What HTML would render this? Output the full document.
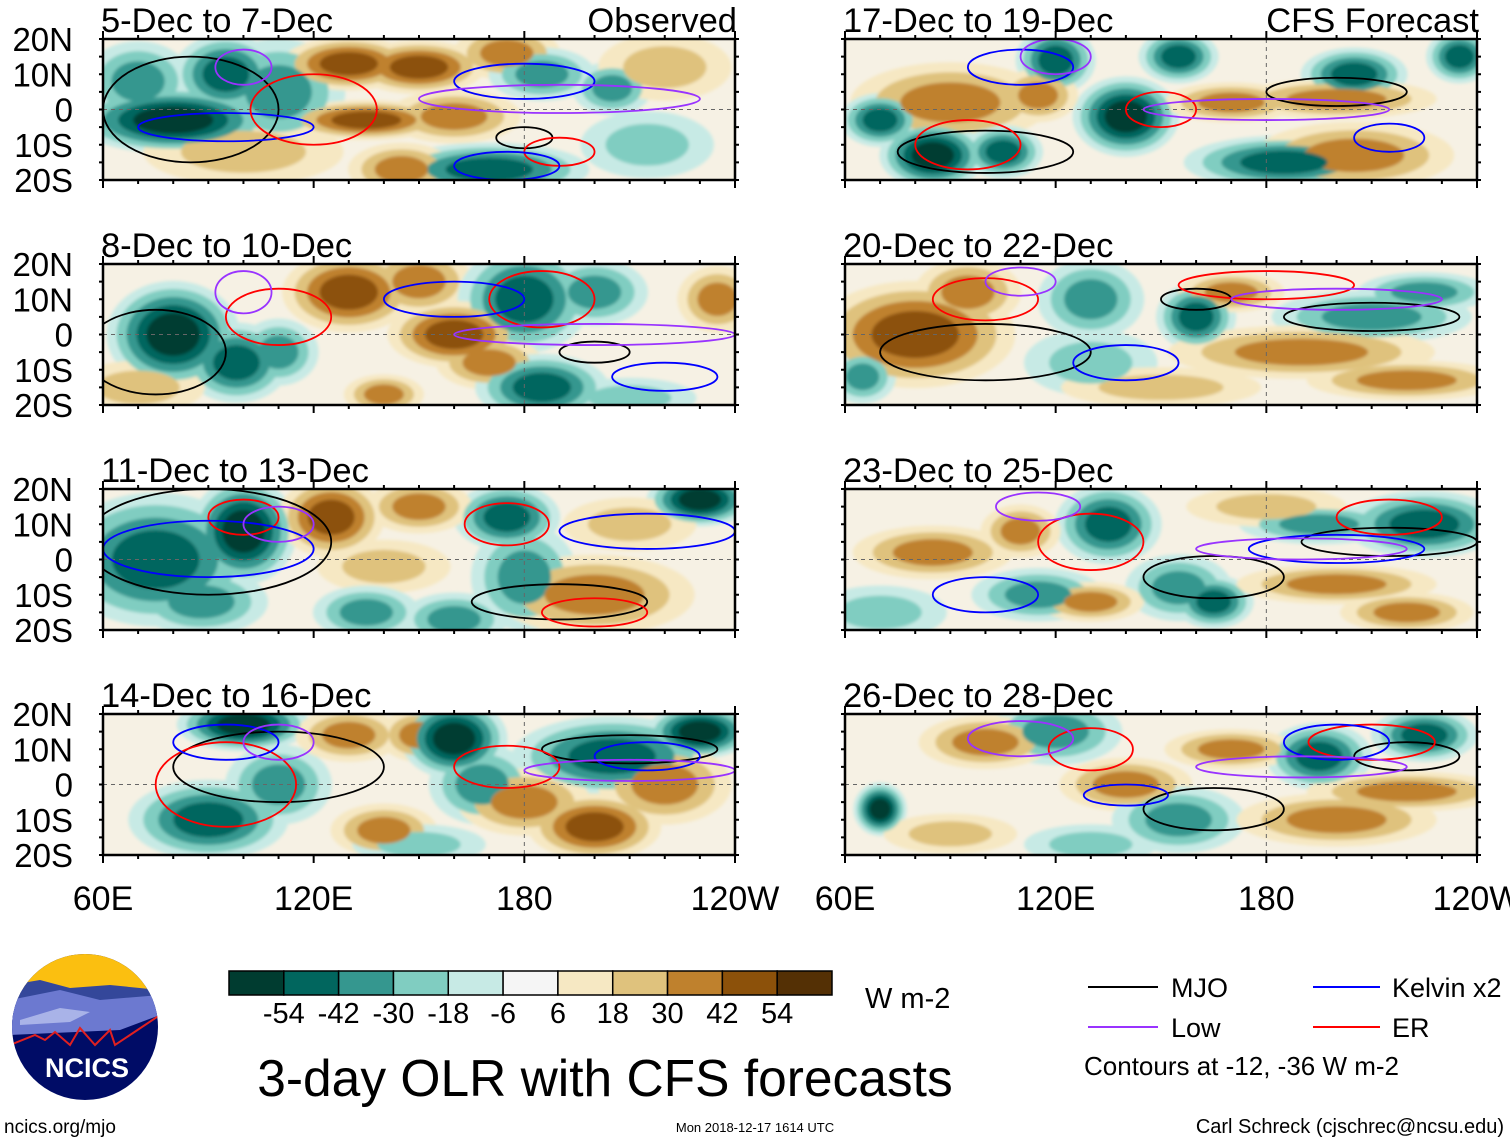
<!DOCTYPE html>
<html><head><meta charset="utf-8"><style>
body{margin:0;background:#fff;}
svg text{font-family:"Liberation Sans",sans-serif;fill:#000;}
</style></head><body>
<svg id="fig" width="1510" height="1142" viewBox="0 0 1510 1142" xmlns="http://www.w3.org/2000/svg">
<defs><filter id="bl" x="-10%" y="-10%" width="120%" height="120%"><feGaussianBlur stdDeviation="1.5"/></filter></defs>
<g id="panels"></g>
<g id="bottom">
  <g>
    <clipPath id="lc"><circle cx="85" cy="1027" r="73"/></clipPath>
    <g clip-path="url(#lc)">
      <rect x="10" y="950" width="150" height="160" fill="#000c66"/>
      <rect x="10" y="950" width="150" height="40" fill="#fbbf10"/>
      <path d="M10 985 L40 980 L70 988 L110 985 L160 990 L160 1015 L10 1030Z" fill="#34479a"/>
      <path d="M10 1000 L60 990 L100 1000 L160 995 L160 1015 L120 1030 L10 1035Z" fill="#6c79d0"/>
      <path d="M20 1020 L60 1008 L90 1012 L70 1022 L20 1025Z" fill="#a9b3e8"/>
      <path d="M10 1045 L35 1035 L45 1040 L55 1032 L70 1045 L80 1028 L95 1045 L110 1030 L115 1045 L160 1015" fill="none" stroke="#e02020" stroke-width="2"/>
    </g>
    <text x="87" y="1077" font-size="27" font-weight="bold" text-anchor="middle" style="fill:#fff">NCICS</text>
  </g>
  <text x="4" y="1133" font-size="19">ncics.org/mjo</text>
  <g id="cbar"></g>
  <text x="865" y="1008" font-size="29">W m-2</text>
  <text x="605" y="1096" font-size="51.5" text-anchor="middle">3-day OLR with CFS forecasts</text>
  <text x="755" y="1132" font-size="13" text-anchor="middle">Mon 2018-12-17 1614 UTC</text>
  <g>
    <line x1="1088" y1="987" x2="1158" y2="987" stroke="#000" stroke-width="2"/><text x="1171" y="997" font-size="27">MJO</text>
    <line x1="1313" y1="987" x2="1380" y2="987" stroke="#0000ff" stroke-width="2"/><text x="1392" y="997" font-size="27">Kelvin x2</text>
    <line x1="1088" y1="1027" x2="1158" y2="1027" stroke="#9933ff" stroke-width="2"/><text x="1171" y="1037" font-size="27">Low</text>
    <line x1="1313" y1="1027" x2="1380" y2="1027" stroke="#ff0000" stroke-width="2"/><text x="1392" y="1037" font-size="27">ER</text>
    <text x="1084" y="1075" font-size="26">Contours at -12, -36 W m-2</text>
  </g>
  <text x="1504" y="1133" font-size="20" text-anchor="end">Carl Schreck (cjschrec@ncsu.edu)</text>
</g>
</svg>
<script>
const levels=[-54,-42,-30,-18,-6,6,18,30,42,54];
const levelColors=["#003c30","#01665e","#35978f","#80cdc1","#c7eae5","#f5f5f5","#f6e8c3","#dfc27d","#bf812d","#8c510a","#543005"];
const panelTitles=["5-Dec to 7-Dec","8-Dec to 10-Dec","11-Dec to 13-Dec","14-Dec to 16-Dec","17-Dec to 19-Dec","20-Dec to 22-Dec","23-Dec to 25-Dec","26-Dec to 28-Dec"];
const latTicks=["20N","10N","0","10S","20S"];
const latVals=[20,10,0,-10,-20];
const lonTicks=["60E","120E","180","120W"];
const lonVals=[60,120,180,240];
// blobs: [lon, lat, rxDeg, ryDeg, anomaly]
const blobs0=[[80,-3,15,5,-54],[95,10,8,6,-42],[110,5,10,8,-30],[70,8,8,6,-30],[130,13,10,4,42],[150,12,10,4,42],[175,16,8,4,30],[135,-3,12,3,42],[160,-2,10,4,30],[170,-17,15,4,-42],[145,-17,8,4,30],[185,10,8,4,-30],[205,6,6,4,-30],[100,-12,15,5,18],[215,-10,10,5,-18],[220,12,10,5,18]];
const blobs1=[[80,0,10,8,-54],[98,-8,8,6,-42],[130,12,10,6,42],[150,15,8,5,30],[180,10,10,8,-42],[200,12,8,5,-30],[160,0,10,5,42],[170,-8,8,4,30],[185,-15,10,5,-42],[235,10,6,5,30],[140,-17,6,3,30],[110,-5,6,5,-30],[70,-15,10,4,18],[210,-18,10,3,-18]];
const blobs2=[[75,0,15,10,-42],[100,8,8,8,-54],[88,-12,10,5,-30],[125,12,8,6,42],[140,-2,10,4,18],[135,-15,8,4,-30],[175,12,8,5,-42],[180,-5,8,8,-30],[200,-10,15,6,30],[230,17,8,4,-54],[160,-17,8,4,-30],[150,15,8,4,30],[210,10,10,4,18]];
const blobs3=[[100,17,10,4,-54],[90,-10,12,6,-42],[110,0,8,6,-30],[130,14,8,4,30],[150,14,6,4,30],[160,13,8,6,-54],[168,0,8,6,-30],[205,8,15,6,-42],[230,15,8,4,-54],[200,-12,10,5,42],[180,-5,10,5,30],[140,-13,8,4,30],[220,0,10,6,30],[150,-17,10,3,-18]];
const blobs4=[[90,2,15,6,30],[85,-13,8,5,-54],[70,-3,6,4,-42],[105,-12,6,4,-42],[140,-2,8,6,-54],[120,14,6,5,-42],[155,15,6,4,-42],[115,4,6,4,30],[185,-15,15,4,-42],[205,-13,15,5,30],[205,10,8,4,-42],[235,15,5,4,-42],[170,2,10,3,30],[200,3,15,3,30]];
const blobs5=[[80,0,15,8,42],[95,12,8,5,30],[65,-12,5,4,-30],[130,10,8,6,-30],[160,5,6,5,-42],[210,5,15,4,-30],[190,-5,20,4,30],[170,12,8,3,30],[130,-8,10,5,-18],[220,-13,15,3,30],[225,12,10,3,-30],[150,-15,15,3,18]];
const blobs6=[[85,2,12,4,30],[115,-10,10,4,-30],[135,10,8,6,-42],[110,8,6,4,30],[155,-8,8,5,-30],[165,-12,6,4,-42],[200,-7,15,3,30],[225,10,12,5,-42],[195,10,12,3,-30],[220,-15,10,3,30],[130,-12,8,3,30],[180,15,12,3,18],[70,-15,10,4,-18]];
const blobs7=[[70,-7,4,4,-54],[120,15,10,5,-30],[100,12,10,4,30],[140,0,10,4,30],[155,-10,10,5,-30],[195,8,8,5,-42],[225,14,8,4,-42],[170,10,10,3,30],[200,-10,15,4,30],[220,-2,15,3,30],[90,-14,10,3,18],[130,-17,10,3,-18]];
const allBlobs=[blobs0,blobs1,blobs2,blobs3,blobs4,blobs5,blobs6,blobs7];
// contours: [type, lon, lat, rxDeg, ryDeg]
const contours0=[["m",85,0,25,15],["m",180,-8,8,3],["k",95,-5,25,4],["k",180,8,20,5],["l",100,12,8,5],["l",190,3,40,4],["e",120,0,18,10],["e",190,-12,10,4],["k",175,-16,15,4]];
const contours1=[["m",75,-5,20,12],["m",200,-5,10,3],["e",110,5,15,8],["e",185,10,15,8],["k",160,10,20,5],["k",220,-12,15,4],["l",100,12,8,6],["l",200,0,40,3]];
const contours2=[["m",90,5,35,15],["m",190,-12,25,5],["e",100,12,10,5],["e",175,10,12,6],["k",90,3,30,8],["k",215,8,25,5],["l",110,10,10,5],["e",200,-15,15,4]];
const contours3=[["m",110,5,30,10],["m",210,10,25,4],["e",95,0,20,12],["e",175,5,15,6],["k",95,12,15,5],["k",215,8,15,4],["l",110,12,10,5],["l",210,4,30,3]];
const contours4=[["m",100,-12,25,6],["m",200,5,20,4],["e",95,-10,15,7],["e",150,0,10,5],["k",110,12,15,5],["k",215,-8,10,4],["l",120,15,10,5],["l",180,0,35,3]];
const contours5=[["m",100,-5,30,8],["m",210,5,25,4],["m",160,10,10,3],["e",100,10,15,6],["e",180,14,25,4],["k",140,-8,15,5],["l",110,15,10,4],["l",200,10,30,3]];
const contours6=[["m",165,-5,20,6],["m",215,5,25,4],["e",130,5,15,8],["k",100,-10,15,5],["k",200,3,25,4],["l",115,15,12,4],["l",190,3,30,3],["e",215,12,15,5]];
const contours7=[["m",165,-7,20,6],["m",220,8,15,4],["e",130,10,12,6],["e",210,12,18,5],["k",200,12,15,5],["k",140,-3,12,3],["l",110,13,15,5],["l",190,5,30,3]];
const allContours=[contours0,contours1,contours2,contours3,contours4,contours5,contours6,contours7];
const ctColor={m:"#000",k:"#0000ff",l:"#9933ff",e:"#ff0000"};
const NS="http://www.w3.org/2000/svg";
function mk(tag,attrs,parent){const e=document.createElementNS(NS,tag);for(const k in attrs)e.setAttribute(k,attrs[k]);parent.appendChild(e);return e;}
function colorFor(v){let i=0;while(i<levels.length&&v>levels[i])i++;return levelColors[i];}
const panelsG=document.getElementById('panels');
const rowTop=[39,264,489,714];
const colLeft=[103,845];
const PW=632,PH=141;
const GROW=1.9;
for(let p=0;p<8;p++){
  const col=p<4?0:1,row=p%4;
  const x0=colLeft[col],y0=rowTop[row];
  const xS=lon=>x0+(lon-60)/180*PW;
  const yS=lat=>y0+(20-lat)/40*PH;
  const g=mk('g',{},panelsG);
  
  
  const cp=mk('clipPath',{id:'cp'+p},g);
  mk('rect',{x:x0,y:y0,width:PW,height:PH},cp);
  const inner=mk('g',{'clip-path':'url(#cp'+p+')'},g);
  mk('rect',{x:x0,y:y0,width:PW,height:PH,fill:"#f6f1e4"},inner);
  const fg=mk('g',{filter:'url(#bl)'},inner);
  const bl=allBlobs[p];
  const absLv=[6,18,30,42,54];
  absLv.forEach(l=>{
    bl.forEach(b=>{
      const a=Math.abs(b[4]);if(l>a)return;
      const s=1-0.75*(l-6)/(a+6);
      const v=Math.sign(b[4])*(l+1);
      const e=mk('ellipse',{cx:xS(b[0]),cy:yS(b[1]),rx:GROW*b[2]*PW/180*s,ry:GROW*b[3]*PH/40*s,fill:colorFor(v)},fg);
      
      
    });
  });
  mk('line',{x1:x0,y1:yS(0),x2:x0+PW,y2:yS(0),stroke:"#666","stroke-dasharray":"4,4","stroke-width":1},inner);
  mk('line',{x1:xS(180),y1:y0,x2:xS(180),y2:y0+PH,stroke:"#666","stroke-dasharray":"4,4","stroke-width":1},inner);
  allContours[p].forEach(c=>{
    const e=mk('ellipse',{cx:xS(c[1]),cy:yS(c[2]),rx:c[3]*PW/180,ry:c[4]*PH/40,fill:"none",stroke:ctColor[c[0]],"stroke-width":1.8},inner);
    
    
  });
  mk('rect',{x:x0,y:y0,width:PW,height:PH,fill:"none",stroke:"#000","stroke-width":2.5},g);
  for(let lon=60;lon<=240;lon+=10){const t=(lon-60)%60===0?8:4;
    mk('line',{x1:xS(lon),y1:y0-t,x2:xS(lon),y2:y0,stroke:"#000","stroke-width":2},g);
    mk('line',{x1:xS(lon),y1:y0+PH,x2:xS(lon),y2:y0+PH+t,stroke:"#000","stroke-width":2},g);}
  for(let lat=-20;lat<=20;lat+=5){
    mk('line',{x1:x0-4,y1:yS(lat),x2:x0,y2:yS(lat),stroke:"#000","stroke-width":2},g);
    mk('line',{x1:x0+PW,y1:yS(lat),x2:x0+PW+4,y2:yS(lat),stroke:"#000","stroke-width":2},g);}
  const t=mk('text',{x:x0-2,y:y0-7,'font-size':34.5},g);t.textContent=panelTitles[p];
  
  
  if(p===0||p===4){const r=mk('text',{x:x0+PW+2,y:y0-7,'font-size':34.5,'text-anchor':'end'},g);r.textContent=p===0?"Observed":"CFS Forecast";
    
    }
  if(col===0){latVals.forEach((lat,i)=>{const tt=mk('text',{x:73,y:yS(lat)+12,'font-size':33,'text-anchor':'end'},g);tt.textContent=latTicks[i];
    
    });}
  if(row===3){lonVals.forEach((lon,i)=>{const tt=mk('text',{x:xS(lon),y:910,'font-size':34,'text-anchor':'middle'},g);tt.textContent=lonTicks[i];
    
    });}
}
const cb=document.getElementById('cbar');
const bw=603/11;
levelColors.forEach((c,i)=>{const r=mk('rect',{x:229+i*bw,y:971,width:bw,height:24,fill:c,stroke:"#000","stroke-width":1.5},cb);
  
  });
levels.forEach((l,i)=>{const t=mk('text',{x:229+(i+1)*bw,y:1023,'font-size':29,'text-anchor':'middle'},cb);t.textContent=l;
  
  });
</script>
</body></html>
